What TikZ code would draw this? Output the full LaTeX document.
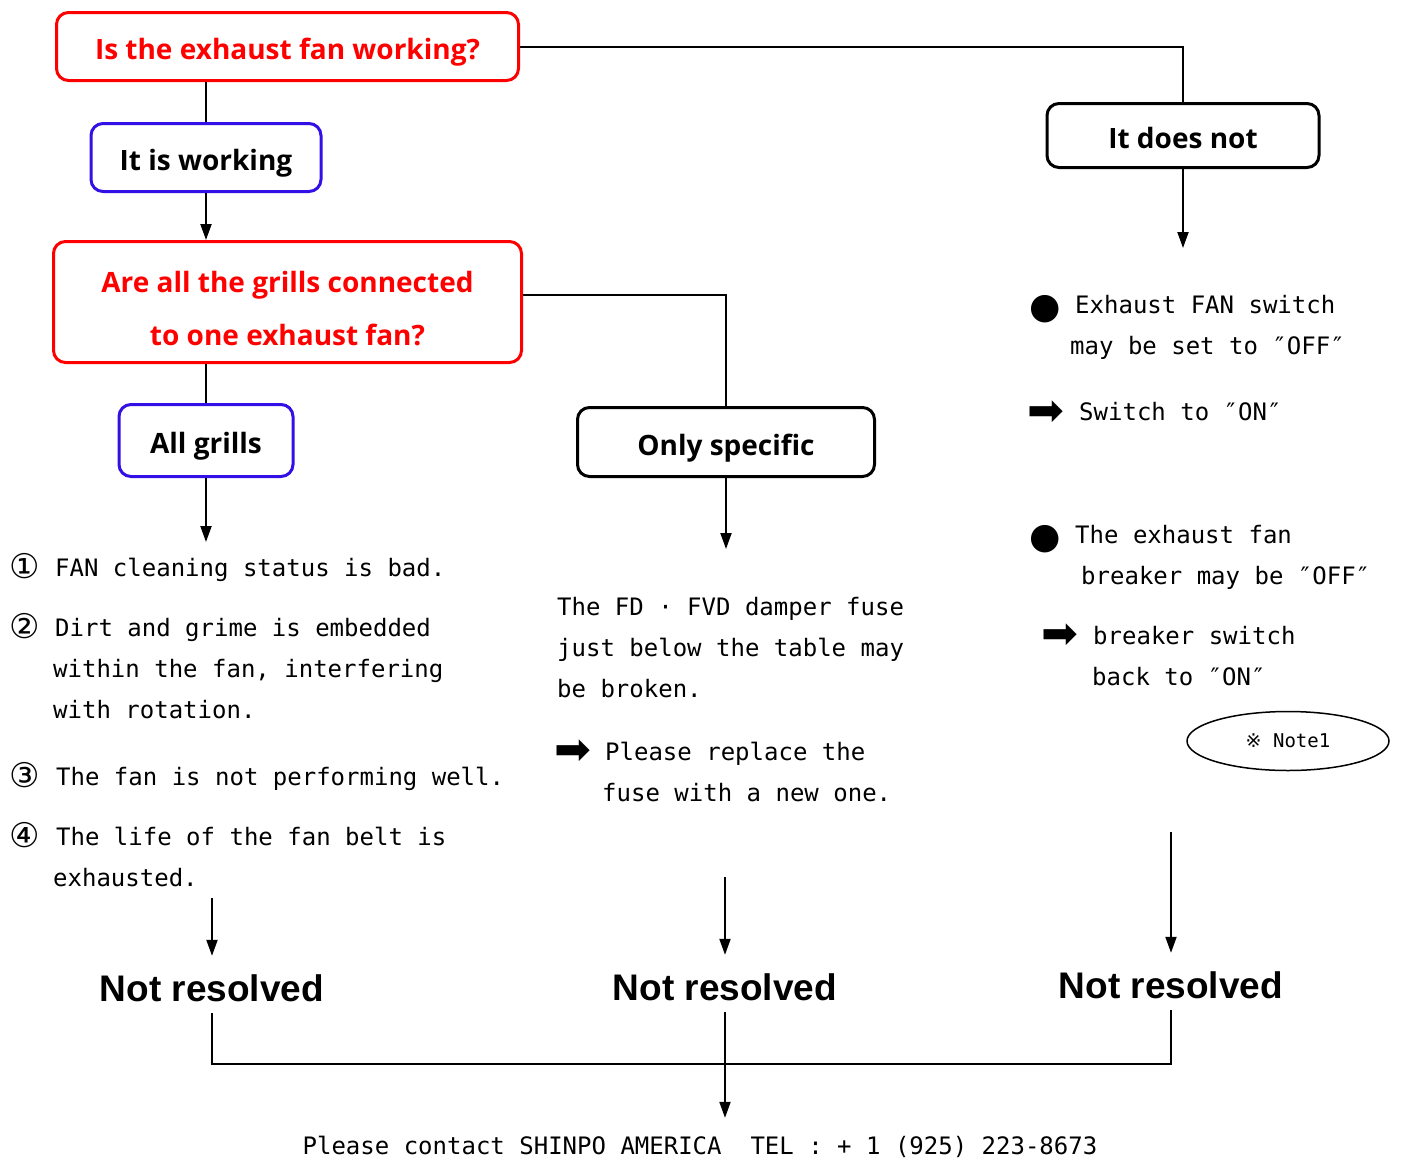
\documentclass[tikz,border=0pt]{standalone}
\usepackage{fontspec}
\usepackage{tikz}
\usetikzlibrary{positioning}
\usetikzlibrary{arrows.meta,shapes}
\usetikzlibrary{calc}
\setmainfont{DejaVu Sans Mono}
\newfontfamily\boxfont{Open Sans}
\newfontfamily\symfont{DejaVu Sans}
\newfontfamily\endfont{Liberation Sans}
\definecolor{qred}{RGB}{255,0,0}
\definecolor{ablue}{RGB}{51,17,230}
\tikzstyle{question}=[rectangle,rounded corners=12pt,draw=qred,line width=3pt,text=qred,align=center,inner sep=0pt,font=\boxfont\bfseries\fontsize{28}{53}\selectfont]
\tikzstyle{answer}=[rectangle,rounded corners=12pt,draw=ablue,line width=3pt,inner sep=0pt,text height=26pt,text depth=0pt,font=\boxfont\bfseries\fontsize{28}{34}\selectfont]
\tikzstyle{branch}=[rectangle,rounded corners=12pt,draw=black,line width=3pt,inner sep=0pt,text height=26pt,text depth=0pt,font=\boxfont\bfseries\fontsize{28}{34}\selectfont]
\tikzstyle{edge} = [draw,line width=2pt,-{Triangle[length=16pt,width=11pt]}]
\tikzstyle{undirectededge} = [draw,line width=2pt]
\tikzstyle{txt} = [anchor=base west,inner sep=0pt,font=\fontsize{24}{30}\selectfont]
\tikzstyle{sym} = [anchor=base west,inner sep=0pt,font=\symfont\fontsize{44}{48}\selectfont]
\tikzstyle{result} = [anchor=base,inner sep=0pt,text height=45pt,text depth=12pt,font=\endfont\bfseries\fontsize{37}{44}\selectfont]

\begin{document}
\begin{tikzpicture}[x=1pt,y=-1pt]
\useasboundingbox (0,0) rectangle (1401,1160);

 %Questions
 \node[question, minimum width=462pt, minimum height=68pt, text height=26pt, text depth=0pt] (isfan) at (287.5,46.5) {Is the exhaust fan working?};
 \node[question, minimum width=468pt, minimum height=121pt] (grills) at (287.5,302) {\rule{0pt}{34pt}Are all the grills connected\\to one exhaust fan?};

 %Answers
 \node[answer, minimum width=230pt, minimum height=68pt] (working) at (206,157.5) {It is working};
 \node[answer, minimum width=174pt, minimum height=72pt] (allgr) at (206,440.5) {All grills};
 \node[branch, minimum width=297pt, minimum height=69pt] (specific) at (726,442) {Only specific};
 \node[branch, minimum width=272pt, minimum height=64pt] (doesnot) at (1183,135.5) {It does not};

 \path[undirectededge] (working.north) -- (working.north |- isfan.south);
 \path[undirectededge] (allgr.north) -- (allgr.north |- grills.south);
 \path[undirectededge] (isfan.east) -| (doesnot.north);
 \path[undirectededge] (grills.east |- 0,295) -| (specific.north);
 \path[edge] (working.south) -- (working.south |- grills.north);

 %Free ends
 \foreach \x/\y/\name in {206/542/c1, 726/549/c2, 1183/248/c3, 212/898/t1, 725/877/t2, 1171/832/t3, 725/1064/bus}
   \coordinate (\name) at (\x,\y);

 \path[edge] (allgr.south) -- (c1);
 \path[edge] (specific.south) -- (c2);
 \path[edge] (doesnot.south) -- (c3);

 %Left column
 \foreach \x/\y/\name/\label in {55/576/L11/{FAN cleaning status is bad.}, 55/636/L21/{Dirt and grime is embedded}, 53/677/L22/{within the fan, interfering}, 53/718/L23/{with rotation.}, 56/785/L31/{The fan is not performing well.}, 56/845/L41/{The life of the fan belt is}, 53/886/L42/{exhausted.}}
   \node[txt] (\name) at (\x,\y) {\label};
 \foreach \y/\name/\label in {576/n1/①, 636/n2/②, 785/n3/③, 845/n4/④}
   \node[sym, font=\symfont\fontsize{34}{36}\selectfont] (\name) at (9,\y+2) {\label};

 %Middle column
 \foreach \x/\y/\name/\label in {557/615/M11/{The FD · FVD damper fuse}, 557/656/M12/{just below the table may}, 557/697/M13/{be broken.}, 605/760/M21/{Please replace the}, 602/801/M22/{fuse with a new one.}}
   \node[txt] (\name) at (\x,\y) {\label};
 \node[sym] (ma) at (554,764) {➡};

 %Right column
 \foreach \x/\y/\name/\label in {1075/313/R11/{Exhaust FAN switch}, 1070/354/R12/{may be set to ″OFF″}, 1079/420/R21/{Switch to ″ON″}, 1075/543/R31/{The exhaust fan}, 1081/584/R32/{breaker may be ″OFF″}, 1093/644/R41/{breaker switch}, 1092/685/R42/{back to ″ON″}}
   \node[txt] (\name) at (\x,\y) {\label};
 \foreach \x/\y/\name/\label in {1029/318/rb1/●, 1029/548/rb2/●}
   \node[sym, font=\symfont\fontsize{36}{40}\selectfont] (\name) at (\x,\y) {\label};
 \foreach \x/\y/\name/\label in {1027/425/ra1/➡, 1041/648/ra2/➡}
   \node[sym] (\name) at (\x,\y) {\label};
 \node[draw, ellipse, line width=1.5pt, minimum width=202pt, minimum height=59pt, inner sep=0pt, font=\fontsize{19}{22}\selectfont] (note) at (1288,741) {{\symfont ※} Note1};

 %Not resolved
 \node[result] (res1) at (212,1001) {Not resolved};
 \node[result] (res2) at (725,1000) {Not resolved};
 \node[result] (res3) at (1171,998) {Not resolved};
 \path[edge] (t1) -- (t1 |- res1.north);
 \path[edge] (t2) -- (t2 |- res2.north);
 \path[edge] (t3) -- (t3 |- res3.north);

 \node[anchor=base, inner sep=0pt, text height=36pt, font=\fontsize{24}{30}\selectfont] (contact) at (700,1154) {Please contact SHINPO AMERICA\ \ TEL : + 1 (925) 223-8673};
 \path[undirectededge] (res1.south) |- (bus) -| (res3.south);
 \path[edge] (res2.south) -- (res2.south |- contact.north);

\end{tikzpicture}
\end{document}
